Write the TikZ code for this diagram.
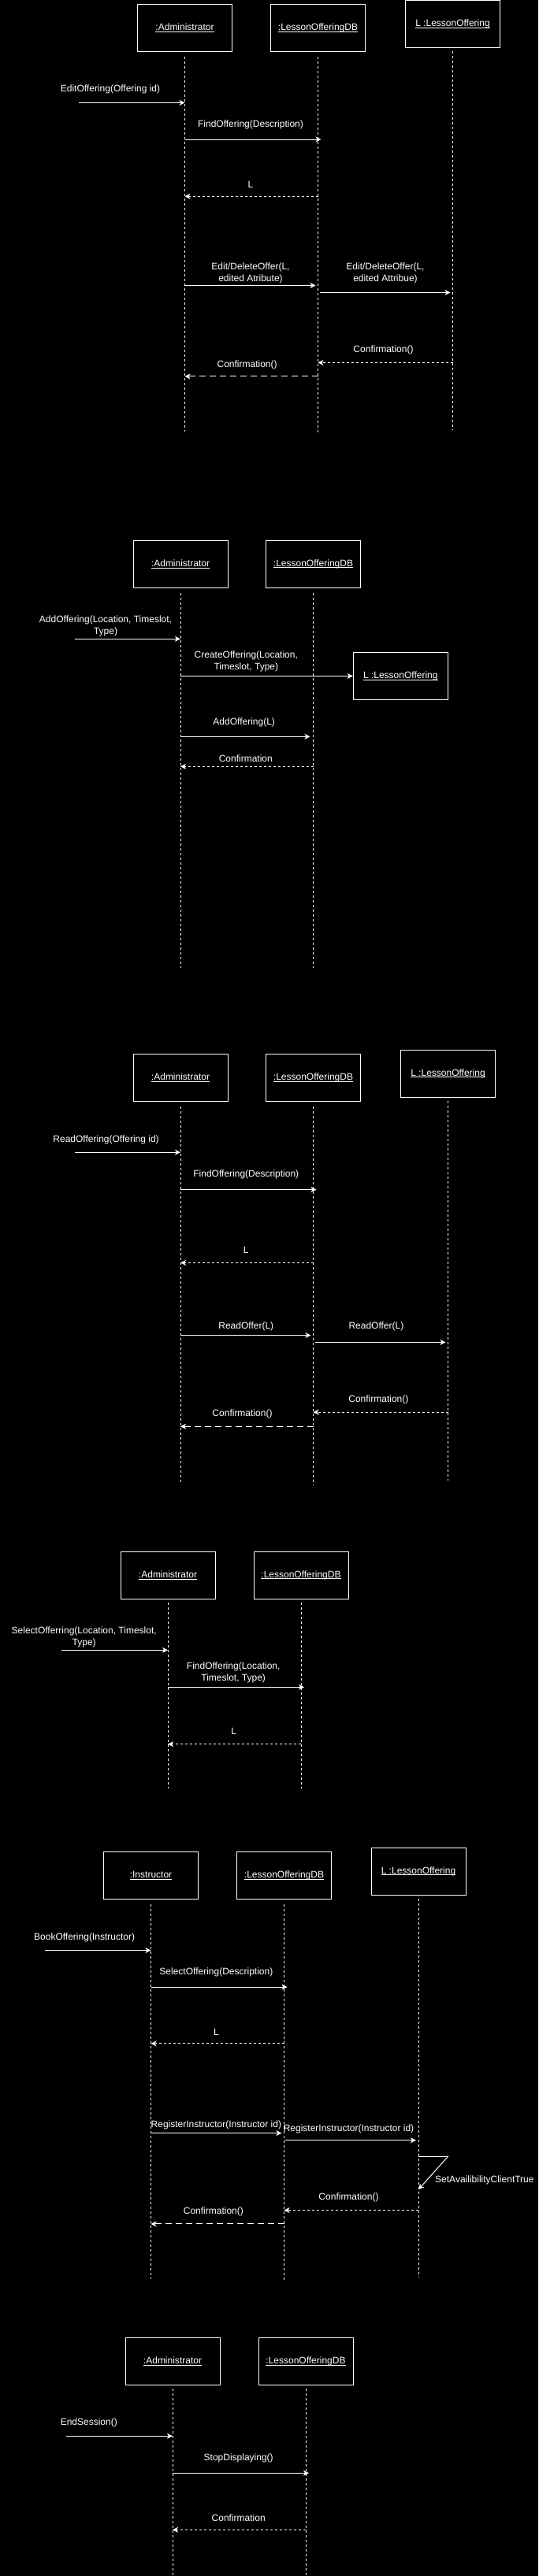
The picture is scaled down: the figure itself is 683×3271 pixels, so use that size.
\documentclass[tikz,border=0pt]{standalone}
\usepackage{fontspec}
\setmainfont{Liberation Sans}
\usepackage{tikz}
\usetikzlibrary{arrows.meta, positioning, calc}
\definecolor{bgblack}{RGB}{0,0,0}
\definecolor{inkwhite}{RGB}{255,255,255}
\newcommand{\ulname}[1]{\setbox0\hbox{#1}\rlap{\rule[-1.8pt]{\wd0}{0.8pt}}\box0}

\tikzset{
  objbox/.style={draw=inkwhite, line width=1pt, minimum width=120pt, minimum height=60pt, inner sep=0pt},
  life/.style={draw=inkwhite, line width=0.9pt, dash pattern=on 3pt off 3pt},
  msg/.style={draw=inkwhite, line width=1pt, -{Stealth[length=7pt, width=7pt, inset=2pt]}},
  ret/.style={msg, dash pattern=on 3pt off 3pt},
  retlong/.style={msg, dash pattern=on 8pt off 5pt},
  lbl/.style={align=center, inner sep=0pt}
}

\begin{document}
\begin{tikzpicture}[x=1pt, y=-1pt, every node/.style={font=\fontsize{12}{15}\selectfont, text=inkwhite}]
            \fill[bgblack] (0,0) rectangle (683,3271);
            \useasboundingbox (0,0) rectangle (683,3271);

            % edit offering
            \node[objbox] (adm1) at (234.5,35.4) {\ulname{:Administrator}};
            \node[objbox] (db1) at (403.5,35.4) {\ulname{:LessonOfferingDB}};
            \node[objbox] (lo1) at (574.5,30.4) {\ulname{L :LessonOffering}};
            \draw[life] ([yshift=-6pt]adm1.south) -- (adm1 |- 0,548);
            \draw[life] ([yshift=-6pt]db1.south) -- (db1 |- 0,551.8);
            \draw[life] ([yshift=-4pt]lo1.south) -- (lo1 |- 0,546.4);
            \coordinate (in1) at (100,130.4);
            \node[lbl] (edit) at (140,113.6) {EditOffering(Offering id)};
            \draw[msg] (in1) -- (adm1 |- in1);
            \node[lbl] (find1) at (318,158.2) {FindOffering(Description)};
            \draw[msg] (adm1 |- 0,177.1) -- ([xshift=4pt]db1 |- 0,177.1);
            \node[lbl] (res1) at (318,233.9) {L};
            \draw[ret] (db1 |- 0,249.3) -- (adm1 |- 0,249.3);
            \node[lbl] (ed1) at (318,347) {Edit/DeleteOffer(L,\\ edited Atribute)};
            \draw[msg] (adm1 |- 0,362.5) -- ([xshift=-3pt]db1 |- 0,362.5);
            \node[lbl] (ed2) at (489,347) {Edit/DeleteOffer(L,\\ edited Attribue)};
            \draw[msg] ([xshift=2pt]db1 |- 0,371.4) -- ([xshift=-3pt]lo1 |- 0,371.4);
            \node[lbl] (conf1a) at (486.5,444.6) {Confirmation()};
            \draw[ret] (lo1 |- 0,460.4) -- (db1 |- 0,460.4);
            \node[lbl] (conf1b) at (313.6,462.9) {Confirmation()};
            \draw[retlong] (db1 |- 0,477.9) -- (adm1 |- 0,477.9);

            % add offering
            \node[objbox] (adm2) at (229,716.3) {\ulname{:Administrator}};
            \node[objbox] (db2) at (397.5,716.3) {\ulname{:LessonOfferingDB}};
            \node[objbox] (lo2) at (508.3,858.5) {\ulname{L :LessonOffering}};
            \draw[life] ([yshift=-6pt]adm2.south) -- (adm2 |- 0,1229);
            \draw[life] ([yshift=-6pt]db2.south) -- (db2 |- 0,1229);
            \coordinate (in2) at (94.5,811.3);
            \node[lbl] (add) at (134,795.2) {AddOffering(Location, Timeslot,\\ Type)};
            \draw[msg] (in2) -- (adm2 |- in2);
            \node[lbl] (create) at (312.3,840.2) {CreateOffering(Location,\\ Timeslot, Type)};
            \draw[msg] (adm2 |- lo2.west) -- (lo2.west);
            \node[lbl] (addl) at (309.7,917.7) {AddOffering(L)};
            \draw[msg] (adm2 |- 0,935.3) -- ([xshift=-4pt]db2 |- 0,935.3);
            \node[lbl] (conf2) at (311.8,962.7) {Confirmation};
            \draw[ret] (db2 |- 0,973.3) -- (adm2 |- 0,973.3);

            % read offering
            \node[objbox] (adm3) at (229,1368.5) {\ulname{:Administrator}};
            \node[objbox] (db3) at (397.5,1368.5) {\ulname{:LessonOfferingDB}};
            \node[objbox] (lo3) at (568.5,1363.2) {\ulname{L :LessonOffering}};
            \draw[life] ([yshift=-6pt]adm3.south) -- (adm3 |- 0,1881.6);
            \draw[life] ([yshift=-6pt]db3.south) -- (db3 |- 0,1885.3);
            \draw[life] ([yshift=-4pt]lo3.south) -- (lo3 |- 0,1879.7);
            \coordinate (in3) at (94.5,1463.2);
            \node[lbl] (read) at (134.6,1446.9) {ReadOffering(Offering id)};
            \draw[msg] (in3) -- (adm3 |- in3);
            \node[lbl] (find3) at (312.3,1491.6) {FindOffering(Description)};
            \draw[msg] (adm3 |- 0,1510.5) -- ([xshift=4pt]db3 |- 0,1510.5);
            \node[lbl] (res3) at (312.3,1587.5) {L};
            \draw[ret] (db3 |- 0,1603.4) -- (adm3 |- 0,1603.4);
            \node[lbl] (rd1) at (312.3,1684.8) {ReadOffer(L)};
            \draw[msg] (adm3 |- 0,1695.5) -- ([xshift=-3pt]db3 |- 0,1695.5);
            \node[lbl] (rd2) at (477.4,1684.8) {ReadOffer(L)};
            \draw[msg] ([xshift=2pt]db3 |- 0,1704.4) -- ([xshift=-3pt]lo3 |- 0,1704.4);
            \node[lbl] (conf3a) at (480.4,1777.6) {Confirmation()};
            \draw[ret] (lo3 |- 0,1793.2) -- (db3 |- 0,1793.2);
            \node[lbl] (conf3b) at (307.5,1795.4) {Confirmation()};
            \draw[retlong] (db3 |- 0,1811.3) -- (adm3 |- 0,1811.3);

            % select offering
            \node[objbox] (adm4) at (213,2000.3) {\ulname{:Administrator}};
            \node[objbox] (db4) at (382,2000.3) {\ulname{:LessonOfferingDB}};
            \draw[life] ([yshift=-4pt]adm4.south) -- (adm4 |- 0,2271);
            \draw[life] ([yshift=-4pt]db4.south) -- (db4 |- 0,2271);
            \coordinate (in4) at (78.4,2095.3);
            \node[lbl] (select) at (106.7,2079.3) {SelectOfferring(Location, Timeslot,\\ Type)};
            \draw[msg] (in4) -- (adm4 |- in4);
            \node[lbl] (find4) at (296.2,2124.2) {FindOffering(Location,\\ Timeslot, Type)};
            \draw[msg] (adm4 |- 0,2142.3) -- ([xshift=4pt]db4 |- 0,2142.3);
            \node[lbl] (res4) at (296.6,2198.7) {L};
            \draw[ret] (db4 |- 0,2214.7) -- (adm4 |- 0,2214.7);

            % book offering
            \node[objbox] (ins5) at (191.5,2381.5) {\ulname{:Instructor}};
            \node[objbox] (db5) at (360.5,2381.5) {\ulname{:LessonOfferingDB}};
            \node[objbox] (lo5) at (531,2376.2) {\ulname{L :LessonOffering}};
            \draw[life] ([yshift=-6pt]ins5.south) -- (ins5 |- 0,2894.2);
            \draw[life] ([yshift=-6pt]db5.south) -- (db5 |- 0,2897.9);
            \draw[life] ([yshift=-4pt]lo5.south) -- (lo5 |- 0,2892.3);
            \coordinate (in5) at (57,2476.5);
            \node[lbl] (book) at (107.1,2460.6) {BookOffering(Instructor)};
            \draw[msg] (in5) -- (ins5 |- in5);
            \node[lbl] (sel5) at (274.4,2504.6) {SelectOffering(Description)};
            \draw[msg] (ins5 |- 0,2523.1) -- ([xshift=4pt]db5 |- 0,2523.1);
            \node[lbl] (res5) at (274.4,2580.1) {L};
            \draw[ret] (db5 |- 0,2594.9) -- (ins5 |- 0,2594.9);
            \node[lbl] (reg1) at (274.4,2698.1) {RegisterInstructor(Instructor id)};
            \draw[msg] (ins5 |- 0,2708.5) -- ([xshift=-3pt]db5 |- 0,2708.5);
            \node[lbl] (reg2) at (442.5,2702.9) {RegisterInstructor(Instructor id)};
            \draw[msg] ([xshift=1pt]db5 |- 0,2717.7) -- ([xshift=-3pt]lo5 |- 0,2717.7);
            \coordinate (self) at (568.4,2738.4);
            \draw[msg] (lo5 |- self) -- (self) -- (lo5 |- 0,2780.2);
            \node[lbl, anchor=west] (avail) at (552,2768.8) {SetAvailibilityClientTrue};
            \node[lbl] (conf5a) at (442.5,2790.6) {Confirmation()};
            \draw[ret] (lo5 |- 0,2806.5) -- (db5 |- 0,2806.5);
            \node[lbl] (conf5b) at (270.9,2808.7) {Confirmation()};
            \draw[retlong] (db5 |- 0,2823.9) -- (ins5 |- 0,2823.9);

            % end session
            \node[objbox] (adm6) at (219,2998.5) {\ulname{:Administrator}};
            \node[objbox] (db6) at (388,2998.5) {\ulname{:LessonOfferingDB}};
            \draw[life] ([yshift=-4pt]adm6.south) -- (adm6 |- 0,3271);
            \draw[life] ([yshift=-4pt]db6.south) -- (db6 |- 0,3271);
            \coordinate (in6) at (84,3093.3);
            \node[lbl] (endses) at (112.8,3076.7) {EndSession()};
            \draw[msg] (in6) -- (adm6 |- in6);
            \node[lbl] (stop) at (302.7,3121.7) {StopDisplaying()};
            \draw[msg] (adm6 |- 0,3140.3) -- ([xshift=4pt]db6 |- 0,3140.3);
            \node[lbl] (conf6) at (302.7,3196.7) {Confirmation};
            \draw[ret] (db6 |- 0,3212.3) -- (adm6 |- 0,3212.3);
        \end{tikzpicture}
\end{document}
